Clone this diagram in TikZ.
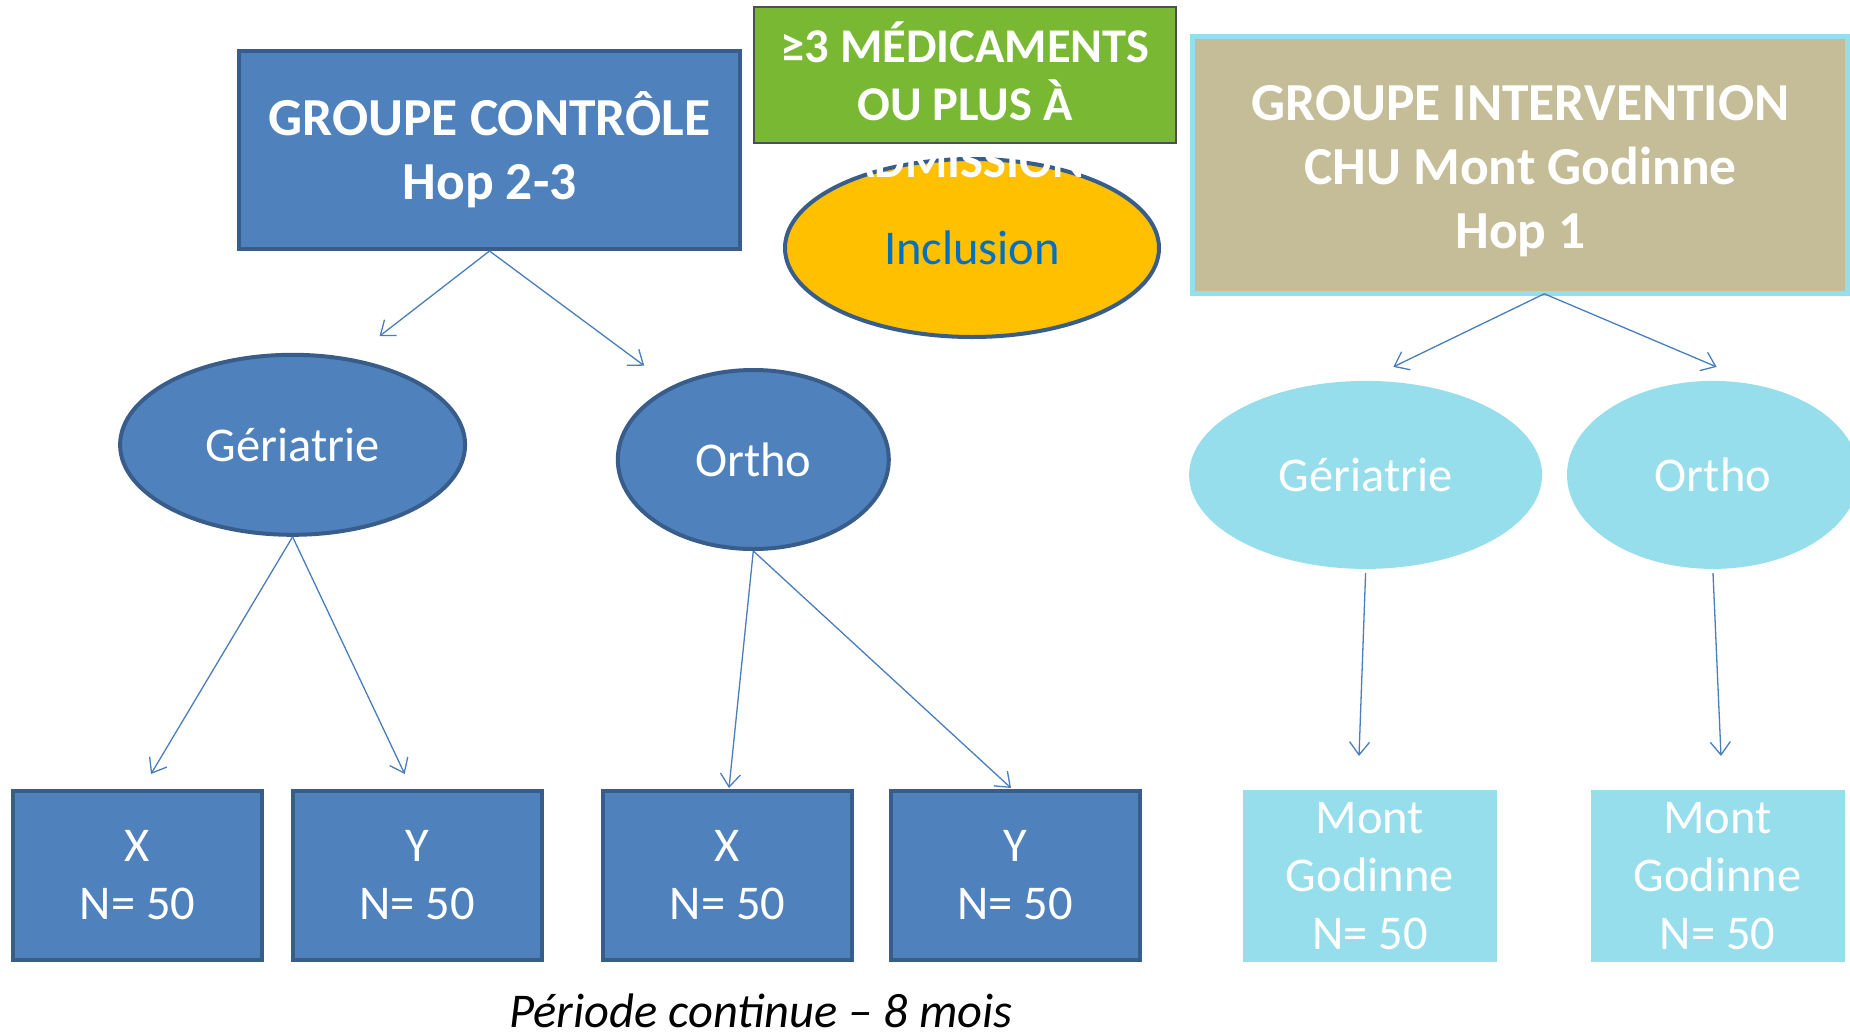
\documentclass[tikz,border=0pt]{standalone}
\usepackage{fontspec}
\setmainfont{Carlito}
\usetikzlibrary{shapes.geometric,arrows.meta}
\definecolor{bfill}{HTML}{4F81BD}
\definecolor{bline}{HTML}{385D8A}
\definecolor{gfill}{HTML}{78B833}
\definecolor{gline}{HTML}{4F4F4F}
\definecolor{yfill}{HTML}{FFC000}
\definecolor{tfill}{HTML}{C4BD97}
\definecolor{cfill}{HTML}{96DEEC}
\definecolor{incl}{HTML}{0070C0}
\definecolor{arr}{HTML}{4A7EBB}
\begin{document}
\begin{tikzpicture}[x=1pt,y=-1pt,
  bigfont/.style={font=\bfseries\fontsize{53.5}{64.3}\selectfont},
  regfont/.style={font=\fontsize{48.5}{58}\selectfont},
  bluebox/.style={rectangle, fill=bfill, draw=bline, line width=4pt, inner sep=0pt,
    text=white, align=center, regfont, minimum width=249pt, minimum height=169pt},
  cyanbox/.style={rectangle, fill=cfill, inner sep=0pt, text=white, align=center,
    regfont, minimum width=254pt, minimum height=172pt},
  blueell/.style={ellipse, fill=bfill, draw=bline, line width=4pt, inner sep=0pt,
    text=white, regfont},
  cyanell/.style={ellipse, fill=cfill, inner sep=0pt, text=white, regfont},
  conn/.style={draw=arr, line width=1.3pt, -{Straight Barb[length=13pt,width=20pt]}}
]
\useasboundingbox (0,0) rectangle (1850,1031);
\fill[white] (0,0) rectangle (1850,1031);

% headers
\node[rectangle, fill=bfill, draw=bline, line width=4pt, inner sep=0pt, text=white,
  align=center, bigfont, minimum width=501pt, minimum height=198pt]
  (gc) at (489.5,150) {GROUPE CONTRÔLE\\Hop 2-3};
\node[rectangle, fill=tfill, draw=cfill, line width=5pt, inner sep=0pt, text=white,
  align=center, minimum width=655pt, minimum height=257pt]
  (gi) at (1519.5,165) {};
\node[text=white, align=center, bigfont, inner sep=0pt] (git) at (1520.5,171)
  {GROUPE INTERVENTION\\CHU Mont Godinne\\Hop 1};
\node[rectangle, fill=gfill, draw=gline, line width=2pt, inner sep=0pt,
  minimum width=422pt, minimum height=136pt] (med) at (965,75) {};

% inclusion
\node[ellipse, fill=yfill, draw=bline, line width=4pt, inner sep=0pt,
  minimum width=374pt, minimum height=178pt, text=incl, regfont]
  (inc) at (972,248) {Inclusion};
\node[text=white, align=center, font=\bfseries\fontsize{48.5}{57.5}\selectfont, inner sep=0pt]
  (medt) at (965,100) {≥3 MÉDICAMENTS\\OU PLUS À\\ADMISSION};

% ellipses
\node[blueell, minimum width=345pt, minimum height=180pt] (ger1) at (292.6,444.8) {Gériatrie};
\node[blueell, minimum width=271pt, minimum height=179pt] (ort1) at (753.3,459.5) {Ortho};
\node[cyanell, minimum width=353pt, minimum height=188pt] (ger2) at (1365.6,474.9) {Gériatrie};
\node[cyanell, minimum width=292pt, minimum height=188pt] (ort2) at (1713,474.9) {Ortho};

% bottom boxes
\node[bluebox] (b1) at (137.5,875.5) {X\\N= 50};
\node[bluebox] (b2) at (417,875.5) {Y\\N= 50};
\node[bluebox] (b3) at (727.5,875.5) {X\\N= 50};
\node[bluebox] (b4) at (1015,875.5) {Y\\N= 50};
\node[cyanbox] (c1) at (1369.8,876) {Mont\\Godinne\\N= 50};
\node[cyanbox] (c2) at (1717.5,876) {Mont\\Godinne\\N= 50};

\node[font=\itshape\fontsize{48.5}{58}\selectfont, inner sep=0pt] (per) at (761,1011) {Période continue – 8 mois};

% arrow ends
\coordinate (gis) at (1544.3,293.8);
\coordinate (e1) at (379.5,336.2);
\coordinate (e2) at (644.2,365.7);
\coordinate (e3) at (151,774);
\coordinate (e4) at (404.7,774);
\coordinate (e5) at (729,788);
\coordinate (e6) at (1011,788);
\coordinate (e7) at (1393.3,366.9);
\coordinate (e8) at (1716.6,366.9);
\coordinate (e9) at (1359,756);
\coordinate (e10) at (1721,756);

\draw[conn] (gc.south) -- (e1);
\draw[conn] (gc.south) -- (e2);
\draw[conn] (ger1.south) -- (e3);
\draw[conn] (ger1.south) -- (e4);
\draw[conn] (ort1.south) -- (e5);
\draw[conn] (ort1.south) -- (e6);
\draw[conn] (gis) -- (e7);
\draw[conn] (gis) -- (e8);
\draw[conn] ([yshift=-4pt]ger2.south) -- (e9);
\draw[conn] ([yshift=-4pt]ort2.south) -- (e10);
\end{tikzpicture}
\end{document}
